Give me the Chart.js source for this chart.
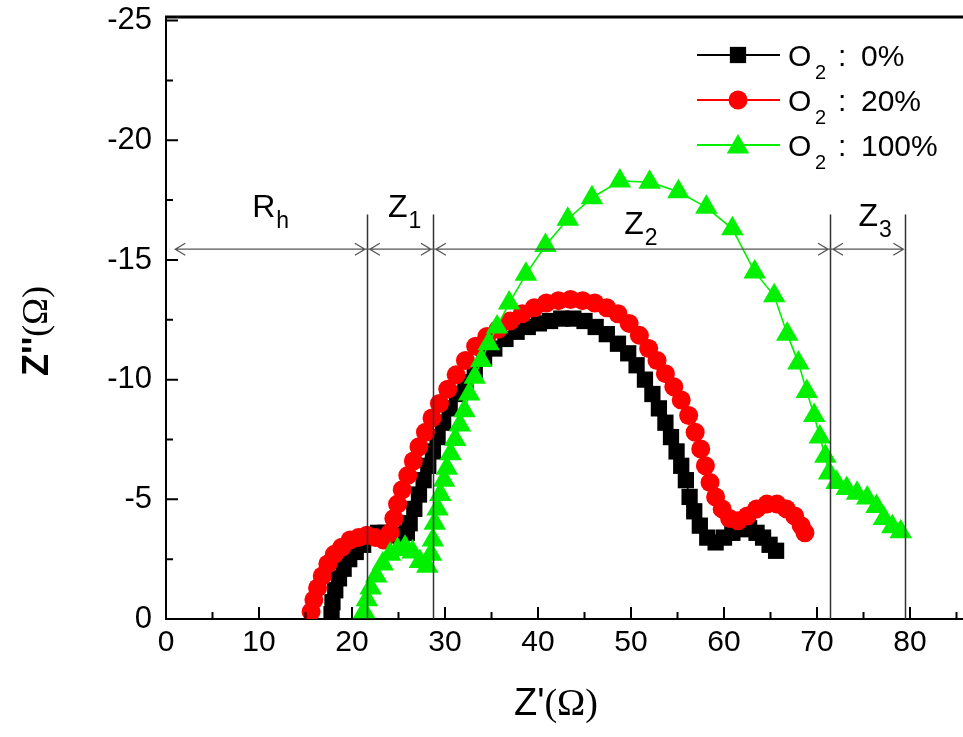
<!DOCTYPE html>
<html>
<head>
<meta charset="utf-8">
<script src="https://cdn.jsdelivr.net/npm/chart.js@4.4.1/dist/chart.umd.min.js"></script>
<style>
  html, body { margin: 0; padding: 0; background: #fff; }
  #wrap { width: 963px; height: 737px; }
</style>
</head>
<body>
<div id="wrap"><canvas id="nyquist"></canvas></div>
<script>
// impedance spectra, Z' and Z'' in ohm
const o2Levels = ['0%', '20%', '100%'];

const zReal0 = [17.8, 17.9, 18.2, 18.6, 19.1, 19.7, 20.4, 21.2, 22.0, 22.8, 23.6, 24.5, 25.3, 25.9, 26.2, 26.7, 27.2, 27.7, 28.2, 28.7,
  29.2, 29.8, 30.5, 31.3, 32.2, 33.2, 34.2, 35.3, 36.5, 37.7, 38.9, 40.1, 41.3, 42.5, 43.8, 45.0, 46.2, 47.4, 48.6, 49.7,
  50.6, 51.5, 52.3, 53.0, 53.7, 54.3, 54.9, 55.4, 55.9, 56.3, 56.8, 57.4, 58.2, 59.1, 60.0, 60.9, 61.8, 62.7, 63.5, 64.2,
  64.9, 65.6];
const zImag0 = [-0.2, -0.7, -1.2, -1.7, -2.1, -2.5, -2.8, -3.1, -3.4, -3.6, -3.6, -3.5, -3.4, -3.6, -4.0, -4.6, -5.2, -5.8, -6.4, -7.0,
  -7.6, -8.2, -8.8, -9.4, -9.9, -10.4, -10.9, -11.3, -11.7, -12.0, -12.2, -12.35, -12.45, -12.55, -12.55, -12.45, -12.2, -11.9, -11.5, -11.1,
  -10.6, -10.0, -9.4, -8.8, -8.2, -7.6, -7.0, -6.4, -5.8, -5.1, -4.5, -3.9, -3.4, -3.2, -3.4, -3.6, -3.75, -3.8, -3.6, -3.4,
  -3.1, -2.85];

const zReal20 = [15.6, 15.9, 16.3, 16.8, 17.4, 18.1, 18.9, 19.8, 20.7, 21.6, 22.5, 23.4, 24.1, 24.5, 24.9, 25.4, 26.0, 26.6, 27.2, 27.9,
  28.6, 29.4, 30.3, 31.2, 32.2, 33.3, 34.5, 35.7, 37.0, 38.3, 39.6, 40.9, 42.2, 43.5, 44.8, 46.1, 47.4, 48.6, 49.8, 50.9,
  51.9, 52.8, 53.7, 54.6, 55.4, 56.2, 56.9, 57.5, 58.0, 58.5, 59.1, 59.8, 60.6, 61.5, 62.5, 63.5, 64.6, 65.7, 66.7, 67.6,
  68.3, 68.7];
const zImag20 = [-0.3, -0.8, -1.3, -1.8, -2.3, -2.7, -3.0, -3.3, -3.4, -3.5, -3.4, -3.3, -3.6, -4.2, -4.8, -5.4, -6.0, -6.6, -7.2, -7.8,
  -8.4, -9.0, -9.6, -10.2, -10.8, -11.4, -11.8, -12.1, -12.45, -12.75, -13.0, -13.2, -13.3, -13.35, -13.3, -13.2, -13.0, -12.75, -12.35, -11.85,
  -11.3, -10.8, -10.25, -9.7, -9.15, -8.5, -7.8, -7.1, -6.4, -5.7, -5.1, -4.6, -4.2, -4.1, -4.3, -4.6, -4.8, -4.8, -4.6, -4.3,
  -3.9, -3.6];

const zReal100 = [21.3, 21.6, 22.0, 22.6, 23.3, 24.1, 24.9, 25.7, 26.5, 27.3, 28.1, 28.5, 28.7, 28.9, 29.2, 29.5, 29.9, 30.2, 30.6, 31.1,
  31.6, 32.1, 32.6, 33.2, 33.9, 34.7, 35.6, 36.9, 38.7, 40.8, 43.2, 45.8, 48.8, 52.0, 55.1, 58.1, 60.9, 63.3, 65.4, 66.8,
  68.0, 68.9, 69.7, 70.3, 70.9, 71.3, 72.1, 73.2, 74.3, 75.4, 76.4, 77.2, 78.1, 79.0];
const zImag100 = [-0.3, -0.8, -1.3, -1.8, -2.3, -2.7, -2.9, -3.0, -2.8, -2.4, -2.2, -2.7, -3.3, -4.0, -4.6, -5.2, -5.8, -6.3, -6.9, -7.5,
  -8.1, -8.7, -9.4, -10.1, -10.8, -11.5, -12.2, -13.2, -14.4, -15.6, -16.7, -17.6, -18.3, -18.25, -17.85, -17.2, -16.3, -14.5, -13.5, -11.9,
  -10.7, -9.5, -8.5, -7.6, -6.8, -6.1, -5.7, -5.45, -5.25, -5.05, -4.7, -4.2, -3.85, -3.65];

const xTicks = [0, 10, 20, 30, 40, 50, 60, 70, 80];
const yTicks = [0, -5, -10, -15, -20, -25];

// region boundaries along Z' and their names
const boundaryZ = [1.0, 21.6, 28.7, 71.4, 79.5];
const regionNames = [['R', 'h'], ['Z', '1'], ['Z', '2'], ['Z', '3']];

const colors = ['#000000', '#ff0000', '#00f000'];
const pointStyles = ['rect', 'circle', 'triangle'];
const pointSizes = [11.5, 9.5, 13];

const toPoints = (xs, ys) => xs.map((v, i) => ({ x: v, y: ys[i] }));
const series = [toPoints(zReal0, zImag0), toPoints(zReal20, zImag20), toPoints(zReal100, zImag100)];

const FONT = "'Liberation Sans', Arial, sans-serif";
const SERIF = "'Liberation Serif', 'Times New Roman', serif";

function drawMarker(ctx, style, r, x, y) {
  ctx.beginPath();
  if (style === 'rect') {
    const s = Math.SQRT1_2 * r;
    ctx.rect(x - s, y - s, 2 * s, 2 * s);
  } else if (style === 'circle') {
    ctx.arc(x, y, r, 0, Math.PI * 2);
  } else {
    let a = 0;
    ctx.moveTo(x + Math.sin(a) * r, y - Math.cos(a) * r);
    a += 2 * Math.PI / 3;
    ctx.lineTo(x + Math.sin(a) * r, y - Math.cos(a) * r);
    a += 2 * Math.PI / 3;
    ctx.lineTo(x + Math.sin(a) * r, y - Math.cos(a) * r);
    ctx.closePath();
  }
  ctx.fill();
}

// write a run of differently styled pieces centred on (cx, cy)
function drawRun(ctx, parts, cx, cy) {
  let total = 0;
  parts.forEach(p => { ctx.font = p.f; total += ctx.measureText(p.t).width; });
  let x = cx - total / 2;
  ctx.textAlign = 'left';
  ctx.textBaseline = 'middle';
  parts.forEach(p => {
    ctx.font = p.f;
    ctx.fillText(p.t, x, cy + (p.dy || 0));
    x += ctx.measureText(p.t).width;
  });
}

const decorations = {
  id: 'decorations',
  afterDatasetsDraw(chart) {
    const { ctx, chartArea: a, scales: { x, y } } = chart;
    const px = v => x.getPixelForValue(v);
    const py = v => y.getPixelForValue(v);
    const right = chart.width;
    ctx.save();

    // frame: top edge, bottom edge carried to the canvas edge, inward ticks
    ctx.strokeStyle = '#000';
    ctx.lineWidth = 3;
    ctx.beginPath();
    ctx.moveTo(a.left - 1, a.top);
    ctx.lineTo(right, a.top);
    ctx.stroke();
    ctx.lineWidth = 2;
    ctx.beginPath();
    ctx.moveTo(x.right - 1, a.bottom);
    ctx.lineTo(right, a.bottom);
    ctx.stroke();

    ctx.beginPath();
    xTicks.forEach(v => {
      ctx.moveTo(px(v), a.bottom); ctx.lineTo(px(v), a.bottom - 12);
      const m = v + 5;
      if (px(m) < right - 2) { ctx.moveTo(px(m), a.bottom); ctx.lineTo(px(m), a.bottom - 7); }
    });
    yTicks.forEach(v => {
      ctx.moveTo(a.left, py(v)); ctx.lineTo(a.left + 12, py(v));
      const m = v - 2.5;
      if (m > y.min) { ctx.moveTo(a.left, py(m)); ctx.lineTo(a.left + 7, py(m)); }
    });
    ctx.stroke();

    // region markers
    const arrowY = py(-15.45);
    const lineTop = py(-16.9);
    ctx.strokeStyle = '#333';
    ctx.lineWidth = 1.5;
    ctx.beginPath();
    boundaryZ.slice(1).forEach(v => {
      ctx.moveTo(Math.round(px(v)) + 0.5, lineTop);
      ctx.lineTo(Math.round(px(v)) + 0.5, a.bottom);
    });
    ctx.stroke();

    ctx.strokeStyle = '#555';
    ctx.lineWidth = 1.3;
    ctx.beginPath();
    ctx.moveTo(px(boundaryZ[0]), arrowY);
    ctx.lineTo(px(boundaryZ[boundaryZ.length - 1]) - 2, arrowY);
    for (let i = 0; i < boundaryZ.length - 1; i++) {
      const l = px(boundaryZ[i]) + (i === 0 ? 0 : 3);
      const r = px(boundaryZ[i + 1]) - 2;
      ctx.moveTo(l + 10, arrowY - 6); ctx.lineTo(l, arrowY); ctx.lineTo(l + 10, arrowY + 6);
      ctx.moveTo(r - 10, arrowY - 6); ctx.lineTo(r, arrowY); ctx.lineTo(r - 10, arrowY + 6);
    }
    ctx.stroke();

    const labelX = [11.2, 25.6, 51.0, 76.2];
    const labelY = [-16.8, -16.8, -16.1, -16.4];
    ctx.fillStyle = '#000';
    ctx.textBaseline = 'alphabetic';
    regionNames.forEach((n, i) => {
      ctx.font = '32px ' + FONT;
      const w1 = ctx.measureText(n[0]).width;
      ctx.font = '23px ' + FONT;
      const w2 = ctx.measureText(n[1]).width;
      const x0 = px(labelX[i]) - (w1 + w2) / 2;
      const b = py(labelY[i]);
      ctx.font = '32px ' + FONT;
      ctx.textAlign = 'left';
      ctx.fillText(n[0], x0, b);
      ctx.font = '23px ' + FONT;
      ctx.fillText(n[1], x0 + w1 + 1, b + 11);
    });

    // legend
    o2Levels.forEach((lvl, i) => {
      const ry = 55 + i * 45;
      ctx.strokeStyle = colors[i];
      ctx.lineWidth = 2;
      ctx.beginPath();
      ctx.moveTo(697, ry); ctx.lineTo(780, ry);
      ctx.stroke();
      ctx.fillStyle = colors[i];
      drawMarker(ctx, pointStyles[i], pointSizes[i], 738, ry + (pointStyles[i] === 'triangle' ? 2 : 0));
      ctx.fillStyle = '#000';
      ctx.textAlign = 'left';
      ctx.textBaseline = 'alphabetic';
      ctx.font = '30px ' + FONT;
      ctx.fillText('O', 788, ry + 11);
      ctx.font = '20px ' + FONT;
      ctx.fillText('2', 815, ry + 24);
      ctx.font = '30px ' + FONT;
      ctx.fillText(':', 838, ry + 11);
      ctx.fillText(lvl, 861, ry + 11);
    });

    // axis titles
    ctx.fillStyle = '#000';
    drawRun(ctx, [
      { t: "Z'", f: '38px ' + FONT },
      { t: '(', f: '38px ' + SERIF },
      { t: 'Ω', f: '38px ' + SERIF },
      { t: ')', f: '38px ' + SERIF }
    ], 556, 705);
    ctx.translate(38, 331);
    ctx.rotate(-Math.PI / 2);
    drawRun(ctx, [
      { t: "Z''", f: 'bold 36px ' + FONT },
      { t: '(', f: '36px ' + SERIF },
      { t: 'Ω', f: '36px ' + SERIF },
      { t: ')', f: '36px ' + SERIF }
    ], 0, 0);
    ctx.restore();
  }
};

new Chart(document.getElementById('nyquist'), {
  type: 'scatter',
  data: {
    datasets: series.map((pts, i) => ({
      label: 'O2 : ' + o2Levels[i],
      data: pts,
      showLine: true,
      borderColor: colors[i],
      backgroundColor: colors[i],
      borderWidth: 1.6,
      pointStyle: pointStyles[i],
      pointRadius: pointSizes[i],
      pointBorderWidth: 0,
      order: 3 - i
    }))
  },
  options: {
    responsive: true,
    maintainAspectRatio: false,
    animation: false,
    events: [],
    layout: { padding: { top: 17, right: 0, left: 0, bottom: 0 } },
    plugins: { legend: { display: false }, tooltip: { enabled: false } },
    scales: {
      x: {
        type: 'linear',
        min: 0,
        max: 84.3,
        afterBuildTicks: s => { s.ticks = xTicks.map(v => ({ value: v })); },
        afterFit: s => { s.height = 118; s.paddingLeft = 0; s.paddingRight = 0; },
        grid: { display: false, drawTicks: false },
        border: { display: true, color: '#000', width: 2 },
        ticks: { color: '#000', font: { family: FONT, size: 30 }, padding: 6, maxRotation: 0 }
      },
      y: {
        type: 'linear',
        min: -25.15,
        max: 0,
        reverse: true,
        afterBuildTicks: s => { s.ticks = yTicks.map(v => ({ value: v })); },
        afterFit: s => { s.width = 166; s.paddingTop = 0; s.paddingBottom = 0; },
        grid: { display: false, drawTicks: false },
        border: { display: true, color: '#000', width: 2 },
        ticks: { color: '#000', font: { family: FONT, size: 31 }, padding: 14 }
      }
    }
  },
  plugins: [decorations]
});
</script>
</body>
</html>
